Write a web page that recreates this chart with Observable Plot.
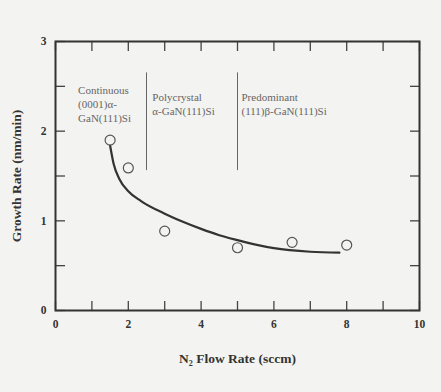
<!DOCTYPE html>
<html>
<head>
<meta charset="utf-8">
<script src="https://cdn.jsdelivr.net/npm/d3@7"></script>
<script src="https://cdn.jsdelivr.net/npm/@observablehq/plot@0.6"></script>
<style>
  html, body { margin: 0; padding: 0; background: #f3f3f1; }
  #chart svg { display: block; }
</style>
</head>
<body>
<div id="chart"></div>
<script>
// Measured points
const flowRate = [1.5, 2, 3, 5, 6.5, 8];
const growthRate = [1.90, 1.59, 0.885, 0.70, 0.76, 0.73];

// Fitted curve
const fitX = [1.5, 1.6, 1.75, 2.0, 2.35, 3.0, 3.5, 4.0, 4.5, 5.0, 5.5, 6.0, 7.0, 7.8];
const fitY = [1.84, 1.63, 1.47, 1.33, 1.22, 1.08, 0.99, 0.91, 0.84, 0.785, 0.735, 0.695, 0.655, 0.645];

// Region boundaries
const boundaryX = [2.5, 5];
const boundaryY1 = 1.56;
const boundaryY2 = 2.65;

// Region labels
const regionX = [0.62, 2.66, 5.11];
const regionY = [2.52, 2.45, 2.45];
const regionText = [
  "Continuous\n(0001)α-\nGaN(111)Si",
  "Polycrystal\nα-GaN(111)Si",
  "Predominant\n(111)β-GaN(111)Si"
];

const xTicks = [0,1,2,3,4,5,6,7,8,9,10];
const xTickLabels = [0,2,4,6,8,10];
const yTicks = [0,0.5,1,1.5,2,2.5,3];
const yTickLabels = [0,1,2,3];

const points = flowRate.map((x, i) => ({x, y: growthRate[i]}));
const fit = fitX.map((x, i) => ({x, y: fitY[i]}));
const bounds = boundaryX.map(x => ({x, y1: boundaryY1, y2: boundaryY2}));
const regions = regionText.map((t, i) => ({x: regionX[i], y: regionY[i], t}));

const serif = "'Liberation Serif', 'DejaVu Serif', serif";

const chart = Plot.plot({
  width: 441,
  height: 392,
  marginLeft: 55,
  marginRight: 22,
  marginTop: 41,
  marginBottom: 82,
  style: {background: "#f3f3f1", fontFamily: serif, color: "#333"},
  x: {domain: [0, 10]},
  y: {domain: [0, 3]},
  marks: [
    // inward ticks
    Plot.axisX(xTicks, {anchor: "bottom", tickSize: -9, tickFormat: () => "", label: null, stroke: "#444", strokeWidth: 1.3}),
    Plot.axisX(xTicks, {anchor: "top", tickSize: -9, tickFormat: () => "", label: null, stroke: "#444", strokeWidth: 1.3}),
    Plot.axisY(yTicks, {anchor: "left", tickSize: -10, tickFormat: () => "", label: null, stroke: "#444", strokeWidth: 1.3}),
    Plot.axisY(yTicks, {anchor: "right", tickSize: -10, tickFormat: () => "", label: null, stroke: "#444", strokeWidth: 1.3}),
    // tick labels + axis titles
    Plot.axisX(xTickLabels, {anchor: "bottom", tickSize: 0, tickPadding: 9, fontSize: 11.5, fontWeight: "bold", fill: "#333",
      tickFormat: d3.format("d"),
      label: "N₂ Flow Rate (sccm)", labelArrow: "none", labelAnchor: "center", labelOffset: 52}),
    Plot.axisY(yTickLabels, {anchor: "left", tickSize: 0, tickPadding: 9, fontSize: 11.5, fontWeight: "bold", fill: "#333",
      tickFormat: d3.format("d"),
      label: "Growth Rate (nm/min)", labelArrow: "none", labelAnchor: "center", labelOffset: 44}),
    Plot.frame({stroke: "#333", strokeWidth: 2}),
    Plot.ruleX(bounds, {x: "x", y1: "y1", y2: "y2", stroke: "#666", strokeWidth: 1}),
    Plot.text(regions, {x: "x", y: "y", text: "t", textAnchor: "start", lineAnchor: "top", lineHeight: 1.27,
      fontSize: 11, fill: "#666"}),
    Plot.line(fit, {x: "x", y: "y", curve: "monotone-x", stroke: "#333", strokeWidth: 2.2}),
    Plot.dot(points, {x: "x", y: "y", r: 5, stroke: "#555", strokeWidth: 1.2, fill: "none"})
  ]
});

// axis titles styling (and strip any arrow)
chart.querySelectorAll("text").forEach(t => {
  const s = t.textContent;
  if (s.includes("Flow Rate") || s.includes("Growth Rate")) {
    t.textContent = s.replace(/\s*[↑→←↓]\s*/g, "");
    t.setAttribute("font-size", "13.5");
    t.setAttribute("font-weight", "bold");
    t.setAttribute("fill", "#333");
  }
});
document.getElementById("chart").appendChild(chart);
</script>
</body>
</html>
